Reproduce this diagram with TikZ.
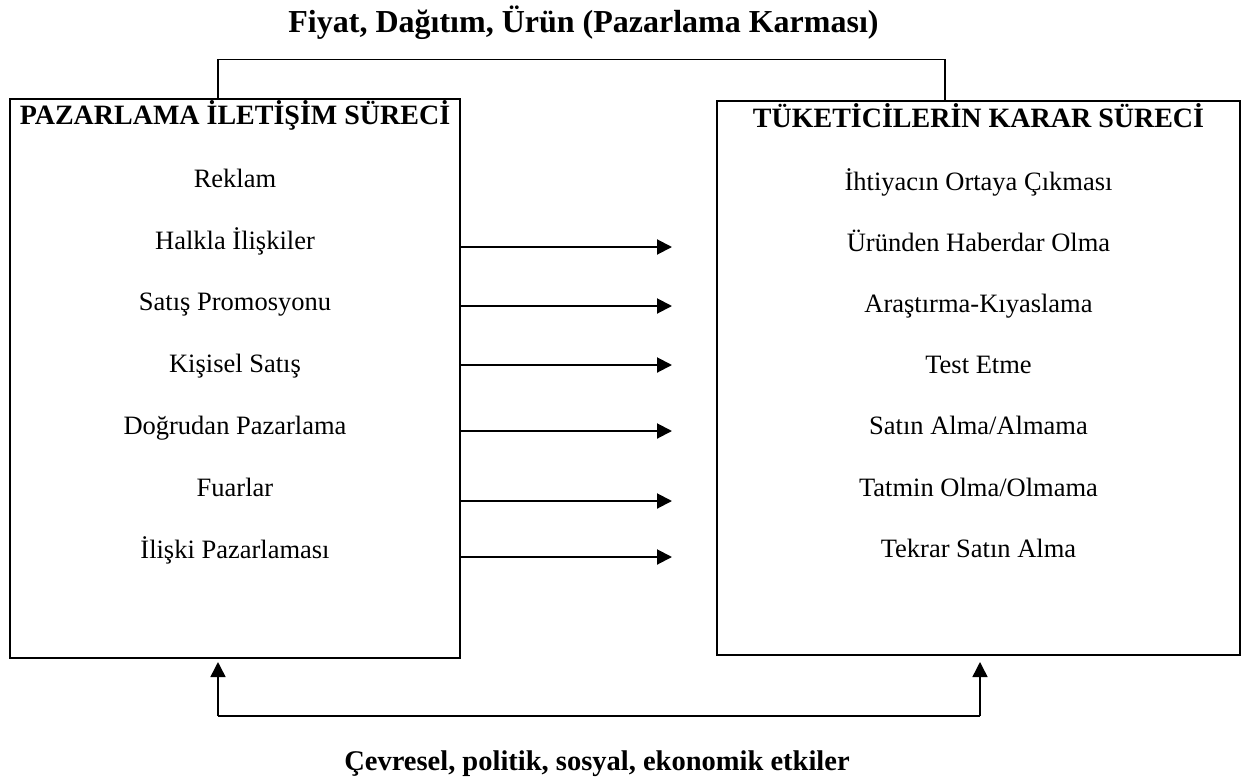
\documentclass[tikz,border=0pt]{standalone}
\usepackage{fontspec}
\setmainfont{Liberation Serif}
\usetikzlibrary{arrows.meta}
\begin{document}
\begin{tikzpicture}[x=1pt,y=-1pt,
  boxrect/.style={draw,line width=2pt,inner sep=0pt},
  item/.style={anchor=base,inner sep=0pt,font=\fontsize{26.5}{30}\selectfont},
  head/.style={anchor=base,inner sep=0pt,font=\fontsize{28}{32}\selectfont\bfseries},
  big/.style={anchor=base,inner sep=0pt,font=\fontsize{32}{36}\selectfont\bfseries},
  conn/.style={line width=1.5pt},
  arr/.style={line width=2pt,-{Triangle[length=15pt,width=15pt]}}]
\useasboundingbox (0,0) rectangle (1248,782);
% boxes
\node[boxrect,minimum width=450pt,minimum height=559pt] (lbox) at (235,378.5) {};
\node[boxrect,minimum width=523pt,minimum height=554pt] (rbox) at (978.5,378) {};
% titles
\node[big] (title) at (583.5,32.5) {Fiyat, Dağıtım, Ürün (Pazarlama Karması)};
\node[big,font=\fontsize{28.5}{33}\selectfont\bfseries] (bottom) at (597,770) {Çevresel, politik, sosyal, ekonomik etkiler};
% headers
\node[head] (lh) at (235,124) {PAZARLAMA İLETİŞİM SÜRECİ};
\node[head] (rh) at (978.5,127) {TÜKETİCİLERİN KARAR SÜRECİ};
% left items
\node[item] (l1) at (235,187) {Reklam};
\node[item] (l2) at (235,249) {Halkla İlişkiler};
\node[item] (l3) at (235,310) {Satış Promosyonu};
\node[item] (l4) at (235,372) {Kişisel Satış};
\node[item] (l5) at (235,434) {Doğrudan Pazarlama};
\node[item] (l6) at (235,496) {Fuarlar};
\node[item] (l7) at (235,558) {İlişki Pazarlaması};
% right items
\node[item] (r1) at (978.5,190) {İhtiyacın Ortaya Çıkması};
\node[item] (r2) at (978.5,251) {Üründen Haberdar Olma};
\node[item] (r3) at (978.5,312) {Araştırma-Kıyaslama};
\node[item] (r4) at (978.5,373) {Test Etme};
\node[item] (r5) at (978.5,434) {Satın Alma/Almama};
\node[item] (r6) at (978.5,496) {Tatmin Olma/Olmama};
\node[item] (r7) at (978.5,557) {Tekrar Satın Alma};
% arrow end points
\foreach \i/\y in {1/247,2/306,3/365,4/431,5/501,6/557}{
  \coordinate (s\i) at (460,\y);
  \coordinate (e\i) at (672,\y);
  \draw[arr] (s\i) -- (e\i);
}
% top connector
\coordinate (tl) at (218,59.5);
\coordinate (tr) at (945,59.5);
\draw[conn] (lbox.north -| tl) -- (tl) -- (tr) -- (rbox.north -| tr);
% bottom connector
\coordinate (bl) at (218,716);
\coordinate (br) at (980,716);
\coordinate (bla) at (218,662);
\coordinate (bra) at (980,662);
\draw[conn] (bl) -- (br);
\draw[arr,line width=1.5pt] (bl) -- (bla);
\draw[arr,line width=1.5pt] (br) -- (bra);
\end{tikzpicture}
\end{document}
